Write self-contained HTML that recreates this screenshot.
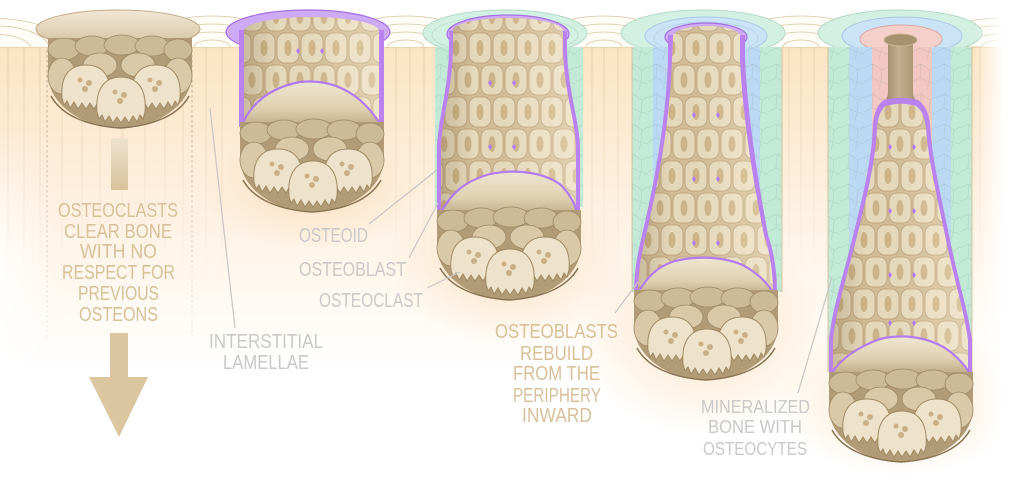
<!DOCTYPE html>
<html><head><meta charset="utf-8">
<style>
html,body{margin:0;padding:0;background:#fff;width:1024px;height:479px;overflow:hidden;}
svg{display:block;}
.t{font-family:"Liberation Sans Narrow","Liberation Sans",sans-serif;font-size:20px;}
.tan{fill:#d8c19a;}
.gry{fill:#c9c9c9;}
</style></head>
<body>
<svg width="1024" height="479" viewBox="0 0 1024 479" xmlns="http://www.w3.org/2000/svg" overflow="hidden">
<defs>
  <linearGradient id="bone" x1="0" y1="47" x2="0" y2="479" gradientUnits="userSpaceOnUse">
    <stop offset="0" stop-color="#fce5c4"/>
    <stop offset="0.25" stop-color="#fdecd7"/>
    <stop offset="0.55" stop-color="#fff8f0"/>
    <stop offset="0.75" stop-color="#ffffff"/>
  </linearGradient>
  <radialGradient id="glow">
    <stop offset="0" stop-color="#fbdfbb" stop-opacity="0.85"/>
    <stop offset="1" stop-color="#fbdfbb" stop-opacity="0"/>
  </radialGradient>
  <linearGradient id="vline" x1="0" y1="47" x2="0" y2="280" gradientUnits="userSpaceOnUse">
    <stop offset="0" stop-color="#dcc39c" stop-opacity="0.8"/>
    <stop offset="1" stop-color="#dcc39c" stop-opacity="0"/>
  </linearGradient>
  <linearGradient id="dash" x1="0" y1="50" x2="0" y2="340" gradientUnits="userSpaceOnUse">
    <stop offset="0" stop-color="#8a8a8a" stop-opacity="0.7"/>
    <stop offset="1" stop-color="#8a8a8a" stop-opacity="0.12"/>
  </linearGradient>
  <linearGradient id="rfade" x1="0" y1="0" x2="1" y2="0">
    <stop offset="0" stop-color="#fff" stop-opacity="0"/>
    <stop offset="0.6" stop-color="#fff" stop-opacity="1"/>
  </linearGradient>
  <linearGradient id="lfade" x1="0" y1="0" x2="1" y2="0">
    <stop offset="0" stop-color="#fff" stop-opacity="0.85"/>
    <stop offset="1" stop-color="#fff" stop-opacity="0"/>
  </linearGradient>
  <linearGradient id="lfadeMask" x1="0" y1="0" x2="0" y2="1">
    <stop offset="0" stop-color="#fff" stop-opacity="0"/>
    <stop offset="0.4" stop-color="#fff" stop-opacity="1"/>
  </linearGradient>
  <mask id="lm"><rect x="0" y="130" width="60" height="349" fill="url(#lfadeMask)"/></mask>
  <linearGradient id="rim" x1="0" y1="0" x2="0" y2="1">
    <stop offset="0" stop-color="#f1e8d6"/>
    <stop offset="1" stop-color="#d4c19f"/>
  </linearGradient>
  <linearGradient id="cav" x1="0" y1="0" x2="0" y2="1">
    <stop offset="0" stop-color="#efe5d0"/>
    <stop offset="0.6" stop-color="#e0d0b1"/>
    <stop offset="1" stop-color="#bfa985"/>
  </linearGradient>
  <linearGradient id="cshade" x1="0" y1="0" x2="1" y2="0">
    <stop offset="0" stop-color="#6e5432" stop-opacity="0.25"/>
    <stop offset="0.25" stop-color="#6e5432" stop-opacity="0.03"/>
    <stop offset="0.7" stop-color="#fff8e8" stop-opacity="0.12"/>
    <stop offset="1" stop-color="#fff8e8" stop-opacity="0.3"/>
  </linearGradient>
  <linearGradient id="canal" x1="0" y1="0" x2="1" y2="0">
    <stop offset="0" stop-color="#8e7758"/>
    <stop offset="0.45" stop-color="#c4b090"/>
    <stop offset="1" stop-color="#9c8565"/>
  </linearGradient>
  <linearGradient id="astem" x1="0" y1="0" x2="0" y2="1">
    <stop offset="0" stop-color="#efe3cf"/>
    <stop offset="1" stop-color="#d9c29c"/>
  </linearGradient>
  <clipPath id="ab"><rect x="0" y="0" width="1024" height="47.5"/></clipPath>
  <pattern id="cells" width="24" height="64" patternUnits="userSpaceOnUse">
    <rect width="24" height="64" fill="#d3bf9b"/>
    <g fill="#eadcbf" stroke="#bca27a" stroke-width="0.8">
      <rect x="1" y="1" width="22" height="30" rx="8"/>
      <rect x="-11" y="33" width="22" height="30" rx="8"/>
      <rect x="13" y="33" width="22" height="30" rx="8"/>
    </g>
    <g fill="#cfb58a">
      <ellipse cx="12" cy="16" rx="3.5" ry="8"/>
      <ellipse cx="0" cy="48" rx="3.5" ry="8"/>
      <ellipse cx="24" cy="48" rx="3.5" ry="8"/>
    </g>
  </pattern>
  <pattern id="net" width="24" height="30" patternUnits="userSpaceOnUse">
    <path d="M0,8 L9,4 L18,10 L24,7 M9,4 L8,18 L0,22 M8,18 L17,22 L18,10 M17,22 L15,30 M24,24 L17,22" fill="none" stroke="#6f8c80" stroke-opacity="0.18" stroke-width="0.8"/>
  </pattern>
  <g id="cl">
    <path d="M0,2 L144,2 L144,40 C142,70 108,92 72,92 C36,92 2,70 0,40 Z" fill="#b29b77"/>
    <g fill="#cdbb98" stroke="#a08964" stroke-width="0.8">
      <ellipse cx="16" cy="13" rx="16" ry="11"/>
      <ellipse cx="44" cy="10" rx="17" ry="10"/>
      <ellipse cx="74" cy="9" rx="18" ry="10"/>
      <ellipse cx="104" cy="10" rx="17" ry="10"/>
      <ellipse cx="130" cy="14" rx="14" ry="11"/>
    </g>
    <g fill="#dac9a8" stroke="#a08964" stroke-width="0.8">
      <ellipse cx="14" cy="40" rx="14" ry="18"/>
      <ellipse cx="52" cy="29" rx="17" ry="12"/>
      <ellipse cx="90" cy="29" rx="17" ry="12"/>
      <ellipse cx="130" cy="40" rx="14" ry="18"/>
    </g>
    <g fill="#eee3ca" stroke="#a28a65" stroke-width="1">
      <path d="M14,62 C12,37 24,29 38,29 C52,29 64,37 62,62 L60,69 L57,65 L54,72 L50,66 L46,73 L42,67 L38,73 L34,67 L30,73 L26,66 L22,72 L19,65 L16,69 Z"/>
      <path d="M84,62 C82,37 94,29 108,29 C122,29 134,37 132,62 L130,69 L127,65 L124,72 L120,66 L116,73 L112,67 L108,73 L104,67 L100,73 L96,66 L92,72 L89,65 L86,69 Z"/>
      <path d="M49,76 C47,50 59,41 73,41 C87,41 99,50 97,76 L95,83 L92,79 L89,86 L85,80 L81,87 L77,81 L73,87 L69,81 L65,87 L61,80 L57,86 L54,79 L51,83 Z"/>
    </g>
    <g fill="#c9b088">
      <circle cx="32" cy="44" r="2.5"/><circle cx="41" cy="47" r="3"/><circle cx="37" cy="53" r="3"/>
      <circle cx="102" cy="44" r="2.5"/><circle cx="111" cy="47" r="3"/><circle cx="107" cy="53" r="3"/>
      <circle cx="67" cy="56" r="2.5"/><circle cx="76" cy="59" r="3"/><circle cx="72" cy="65" r="3"/>
    </g>
    <path d="M3,60 C14,80 40,90 72,92 C104,90 130,80 141,60" fill="none" stroke="#8a7352" stroke-width="1.5"/>
  </g>
</defs>

<!-- background -->
<rect width="1024" height="479" fill="#fff"/>
<rect x="0" y="47" width="1024" height="432" fill="url(#bone)"/>
<ellipse cx="312" cy="190" rx="110" ry="60" fill="url(#glow)"/>
<ellipse cx="510" cy="265" rx="120" ry="80" fill="url(#glow)"/>
<ellipse cx="706" cy="335" rx="130" ry="100" fill="url(#glow)"/>
<ellipse cx="900" cy="398" rx="125" ry="78" fill="url(#glow)"/>
<rect x="0" y="130" width="60" height="349" fill="url(#lfade)" mask="url(#lm)"/>

<!-- vertical bone lines -->
<g stroke="url(#vline)" stroke-width="0.8">
  <path d="M8,47V280M24,47V280M40,47V280M62,47V280M82,47V280M100,47V280M122,47V280M145,47V280M165,47V280M183,47V280M206,47V280M222,47V280"/>
  <path d="M396,47V280M410,47V280M424,47V280M592,47V280M604,47V280M618,47V280M789,47V280M801,47V280M814,47V280M980,47V280"/>
</g>
<line x1="0" y1="47" x2="1024" y2="47" stroke="#dcc5a0" stroke-width="0.9"/>

<!-- lamellae arcs on top face -->
<g fill="#fffdf8" stroke="#d9c5a2" stroke-width="0.8">
  <path d="M0,18 A72,31 0 0 1 67,47 L0,47 Z" stroke="none"/>
  <path d="M0,18.6 A72,31 0 0 1 67,47"/><path d="M0,26 A54,23 0 0 1 49,47"/><path d="M0,34.5 A36,15 0 0 1 31,47"/>
  <path d="M140,47 A72,31 0 0 1 284,47"/><path d="M158,47 A54,23 0 0 1 266,47"/><path d="M176,47 A36,15 0 0 1 248,47"/><path d="M194,47 A18,7 0 0 1 230,47"/>
  <path d="M334,47 A72,31 0 0 1 478,47"/><path d="M352,47 A54,23 0 0 1 460,47"/><path d="M370,47 A36,15 0 0 1 442,47"/><path d="M388,47 A18,7 0 0 1 424,47"/>
  <path d="M532,47 A72,31 0 0 1 676,47"/><path d="M550,47 A54,23 0 0 1 658,47"/><path d="M568,47 A36,15 0 0 1 640,47"/><path d="M586,47 A18,7 0 0 1 622,47"/>
  <path d="M729,47 A72,31 0 0 1 873,47"/><path d="M747,47 A54,23 0 0 1 855,47"/><path d="M765,47 A36,15 0 0 1 837,47"/><path d="M783,47 A18,7 0 0 1 819,47"/>
  <path d="M928,47 A72,31 0 0 1 1024,20"/><path d="M946,47 A54,23 0 0 1 1024,28"/><path d="M964,47 A36,15 0 0 1 1024,38"/><path d="M982,47 A18,7 0 0 1 1018,47"/>
</g>

<!-- dashed lines S1 -->
<g stroke="url(#dash)" stroke-width="1" stroke-dasharray="2.5,2.5">
  <line x1="47" y1="50" x2="47" y2="340"/>
  <line x1="192" y1="50" x2="192" y2="340"/>
</g>

<!-- ===== S1 ===== -->
<ellipse cx="118" cy="29" rx="82" ry="19" fill="url(#rim)" stroke="#c4aa83" stroke-width="1"/>
<use href="#cl" transform="translate(48,36)"/>

<!-- ===== S2 ===== -->
<g clip-path="url(#ab)"><ellipse cx="308" cy="32" rx="82" ry="22" fill="#cfaaf5" stroke="#a570e2" stroke-width="1.2"/></g>
<rect x="239" y="30" width="145" height="97" fill="#b982ee"/>
<path d="M244,31 A67.5,14 0 0 1 379,31 L379,127 L244,127 Z" fill="url(#cells)"/>
<path d="M244,31 A67.5,14 0 0 1 379,31 L379,127 L244,127 Z" fill="url(#cshade)"/>
<path d="M241,127 C250,105 268,88 300,82 C330,79 360,90 382,127 Z" fill="url(#cav)"/>
<path d="M241,127 C250,105 268,88 300,82 C330,79 360,90 382,127" fill="none" stroke="#b27cf0" stroke-width="2.2"/>
<use href="#cl" transform="translate(240,120)"/>

<!-- ===== S3 ===== -->
<g clip-path="url(#ab)">
  <ellipse cx="505" cy="33" rx="82" ry="23" fill="#d3f1e3" stroke="#b5d8c6" stroke-width="1"/>
  <ellipse cx="505" cy="35" rx="73" ry="19" fill="none" stroke="#b9dccb" stroke-width="0.7"/>
</g>
<rect x="435" y="47" width="148" height="160" fill="#c2ead7"/>
<rect x="435" y="47" width="148" height="160" fill="url(#net)"/>
<g clip-path="url(#ab)"><ellipse cx="508" cy="34" rx="61" ry="19" fill="#cfaaf5" stroke="#a570e2" stroke-width="1.2"/></g>
<path d="M449,31 L449,45 C449,90 437,120 437,150 L437,216 L580,216 L580,150 C580,120 567,90 567,45 L567,31 Z" fill="#b982ee"/>
<path d="M453,31 A55,13 0 0 1 563,31 L563,45 C563,90 576,120 576,150 L576,216 L441,216 L441,150 C441,120 453,90 453,45 Z" fill="url(#cells)"/>
<path d="M453,31 A55,13 0 0 1 563,31 L563,45 C563,90 576,120 576,150 L576,216 L441,216 L441,150 C441,120 453,90 453,45 Z" fill="url(#cshade)"/>
<path d="M439,216 C450,195 462,182 490,174 C520,168 548,174 562,186 C570,195 576,205 578,216 Z" fill="url(#cav)"/>
<path d="M439,216 C450,195 462,182 490,174 C520,168 548,174 562,186 C570,195 576,205 578,216" fill="none" stroke="#b27cf0" stroke-width="2.2"/>
<use href="#cl" transform="translate(437,208)"/>

<!-- ===== S4 ===== -->
<g clip-path="url(#ab)">
  <ellipse cx="703" cy="33" rx="82" ry="23" fill="#d3f1e3" stroke="#b5d8c6" stroke-width="1"/>
  <ellipse cx="706" cy="36" rx="61" ry="19" fill="#cbe3f6" stroke="#a9c9e4" stroke-width="1"/>
  <ellipse cx="706" cy="38" rx="52" ry="16" fill="none" stroke="#b2cfe6" stroke-width="0.7"/>
  <ellipse cx="706" cy="37" rx="41" ry="14" fill="#cfaaf5" stroke="#a570e2" stroke-width="1.2"/>
</g>
<rect x="632" y="47" width="150" height="245" fill="#c2ead7"/>
<rect x="653" y="47" width="107" height="210" fill="#bcd9f3"/>
<rect x="632" y="47" width="150" height="245" fill="url(#net)"/>
<line x1="632" y1="47" x2="632" y2="292" stroke="#d3b88e" stroke-width="0.8"/>
<line x1="782" y1="47" x2="782" y2="292" stroke="#d3b88e" stroke-width="0.8"/>
<path d="M668,35 L668,60 C666,120 655,180 642,235 C636,260 634,275 634,296 L777,296 C777,275 775,255 768,235 C758,180 748,120 745,60 L745,35 Z" fill="#b982ee"/>
<path d="M673,36 A33.5,10 0 0 1 740,36 L740,60 C743,120 753,180 764,235 C771,255 773,275 773,296 L638,296 C638,275 640,260 646,235 C659,180 670,120 672,60 Z" fill="url(#cells)"/>
<path d="M673,36 A33.5,10 0 0 1 740,36 L740,60 C743,120 753,180 764,235 C771,255 773,275 773,296 L638,296 C638,275 640,260 646,235 C659,180 670,120 672,60 Z" fill="url(#cshade)"/>
<path d="M636,296 C645,280 655,267 675,261 C700,255 730,257 748,268 C762,277 770,286 775,296 Z" fill="url(#cav)"/>
<path d="M636,296 C645,280 655,267 675,261 C700,255 730,257 748,268 C762,277 770,286 775,296" fill="none" stroke="#b27cf0" stroke-width="2.2"/>
<use href="#cl" transform="translate(634,288)"/>

<!-- ===== S5 ===== -->
<g clip-path="url(#ab)">
  <ellipse cx="900" cy="33" rx="82" ry="23" fill="#d3f1e3" stroke="#b5d8c6" stroke-width="1"/>
  <ellipse cx="902" cy="36" rx="60" ry="19" fill="#cbe3f6" stroke="#a9c9e4" stroke-width="1"/>
  <ellipse cx="901" cy="39" rx="41" ry="14" fill="#f5d0cb" stroke="#dcaaa5" stroke-width="1"/>
</g>
<rect x="828" y="47" width="144" height="325" fill="#c2ead7"/>
<rect x="849" y="47" width="102" height="300" fill="#bcd9f3"/>
<rect x="872" y="47" width="60" height="200" fill="#f3c7c2"/>
<rect x="828" y="47" width="144" height="325" fill="url(#net)"/>
<line x1="828" y1="47" x2="828" y2="372" stroke="#d3b88e" stroke-width="0.8"/>
<line x1="972" y1="47" x2="972" y2="372" stroke="#d3b88e" stroke-width="0.8"/>
<path d="M888,40 L888,92 C888,99 884,103 879,106 L923,106 C918,103 913,99 913,92 L913,40 Z" fill="url(#canal)"/>
<ellipse cx="900.5" cy="40" rx="16.5" ry="6" fill="#a8916f" stroke="#c8b391" stroke-width="1"/>
<path d="M884,100 C878,104 874,112 873,125 C872,160 862,200 852,240 C842,280 832,310 829,340 L829,374 L972,374 L972,340 C968,310 958,280 950,240 C942,200 932,160 930,125 C929,112 924,104 918,100 C908,97 894,97 884,100 Z" fill="#b982ee"/>
<path d="M886,106 C880,110 878,118 877,128 C876,160 866,200 856,240 C846,280 836,310 833,340 L833,374 L968,374 L968,340 C964,310 954,280 946,240 C938,200 928,160 926,128 C925,118 922,110 916,106 C906,103 896,103 886,106 Z" fill="url(#cells)"/>
<path d="M886,106 C880,110 878,118 877,128 C876,160 866,200 856,240 C846,280 836,310 833,340 L833,374 L968,374 L968,340 C964,310 954,280 946,240 C938,200 928,160 926,128 C925,118 922,110 916,106 C906,103 896,103 886,106 Z" fill="url(#cshade)"/>
<path d="M831,374 C840,360 855,348 880,339 C900,334 925,336 945,348 C958,357 965,365 970,374 Z" fill="url(#cav)"/>
<path d="M831,374 C840,360 855,348 880,339 C900,334 925,336 945,348 C958,357 965,365 970,374" fill="none" stroke="#b27cf0" stroke-width="2.2"/>
<use href="#cl" transform="translate(829,370)"/>

<!-- purple junction dots -->
<g fill="#b27cf0">
  <path d="M298,48 l2,3 -2,3 -2,-3z M322,48 l2,3 -2,3 -2,-3z"/>
  <path d="M490,80 l2,3 -2,3 -2,-3z M514,80 l2,3 -2,3 -2,-3z M490,144 l2,3 -2,3 -2,-3z M514,144 l2,3 -2,3 -2,-3z"/>
  <path d="M694,112 l2,3 -2,3 -2,-3z M718,112 l2,3 -2,3 -2,-3z M694,176 l2,3 -2,3 -2,-3z M718,176 l2,3 -2,3 -2,-3z M694,240 l2,3 -2,3 -2,-3z M718,240 l2,3 -2,3 -2,-3z"/>
  <path d="M890,144 l2,3 -2,3 -2,-3z M914,144 l2,3 -2,3 -2,-3z M890,208 l2,3 -2,3 -2,-3z M914,208 l2,3 -2,3 -2,-3z M890,272 l2,3 -2,3 -2,-3z M914,272 l2,3 -2,3 -2,-3z M890,320 l2,3 -2,3 -2,-3z M914,320 l2,3 -2,3 -2,-3z"/>
</g>

<!-- edge fades -->
<rect x="975" y="0" width="49" height="479" fill="url(#rfade)"/>

<!-- arrows -->
<rect x="111" y="138" width="17" height="52" fill="url(#astem)"/>
<rect x="110" y="333" width="18" height="45" fill="#dcc6a0"/>
<polygon points="89,377 148,377 119,437" fill="#dcc6a0"/>

<!-- leader lines -->
<g stroke="#c6c6c6" stroke-width="1.2" fill="none">
  <line x1="210" y1="108" x2="235" y2="328"/>
  <line x1="369" y1="224" x2="437" y2="170"/>
  <line x1="409" y1="258" x2="438" y2="203"/>
  <line x1="427" y1="288" x2="460" y2="272"/>
  <line x1="615" y1="313" x2="638" y2="282"/>
  <line x1="798" y1="393" x2="832" y2="277"/>
</g>

<!-- text -->
<g class="t tan">
  <text x="58" y="217" textLength="120" lengthAdjust="spacingAndGlyphs">OSTEOCLASTS</text>
  <text x="64" y="238" textLength="108" lengthAdjust="spacingAndGlyphs">CLEAR BONE</text>
  <text x="80" y="258" textLength="77" lengthAdjust="spacingAndGlyphs">WITH NO</text>
  <text x="62" y="279" textLength="113" lengthAdjust="spacingAndGlyphs">RESPECT FOR</text>
  <text x="78" y="300" textLength="81" lengthAdjust="spacingAndGlyphs">PREVIOUS</text>
  <text x="79" y="321" textLength="79" lengthAdjust="spacingAndGlyphs">OSTEONS</text>
  <text x="495" y="338" textLength="123" lengthAdjust="spacingAndGlyphs">OSTEOBLASTS</text>
  <text x="520" y="360" textLength="73" lengthAdjust="spacingAndGlyphs">REBUILD</text>
  <text x="513" y="380" textLength="87" lengthAdjust="spacingAndGlyphs">FROM THE</text>
  <text x="513" y="402" textLength="88" lengthAdjust="spacingAndGlyphs">PERIPHERY</text>
  <text x="522" y="422" textLength="70" lengthAdjust="spacingAndGlyphs">INWARD</text>
</g>
<g class="t gry">
  <text x="209" y="348" textLength="114" lengthAdjust="spacingAndGlyphs">INTERSTITIAL</text>
  <text x="223" y="369" textLength="86" lengthAdjust="spacingAndGlyphs">LAMELLAE</text>
  <text x="299" y="242" textLength="69" lengthAdjust="spacingAndGlyphs">OSTEOID</text>
  <text x="299" y="276" textLength="107" lengthAdjust="spacingAndGlyphs">OSTEOBLAST</text>
  <text x="319" y="307" textLength="104" lengthAdjust="spacingAndGlyphs">OSTEOCLAST</text>
  <text x="701" y="413" textLength="109" lengthAdjust="spacingAndGlyphs" style="font-size:18px">MINERALIZED</text>
  <text x="708" y="433" textLength="94" lengthAdjust="spacingAndGlyphs" style="font-size:18px">BONE WITH</text>
  <text x="703" y="455" textLength="104" lengthAdjust="spacingAndGlyphs" style="font-size:18px">OSTEOCYTES</text>
</g>
</svg>
</body></html>
